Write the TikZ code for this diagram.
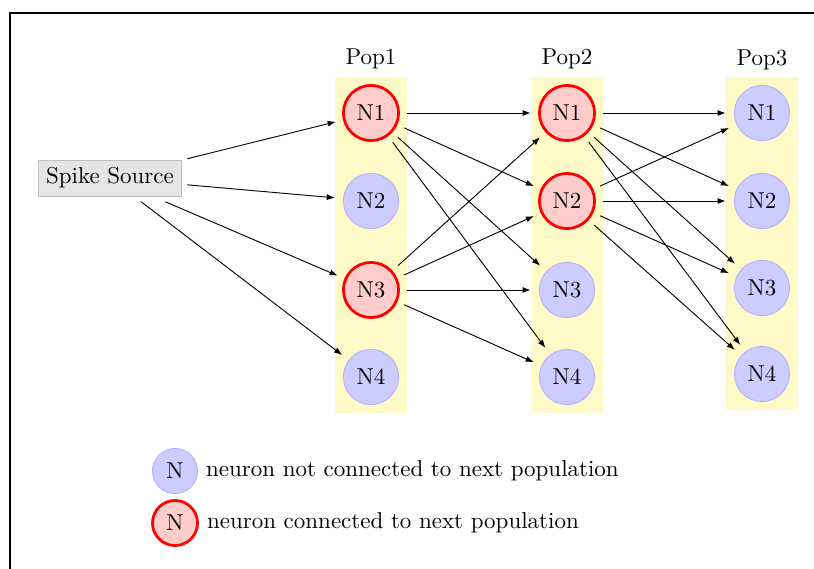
\documentclass[tikz,border=0pt]{standalone}
\usetikzlibrary{arrows.meta,positioning,fit,backgrounds}
\definecolor{popyellow}{RGB}{255,250,200}
\tikzset{
  neuron/.style={
    circle,
    draw,
    inner sep=0pt,
    minimum size=24pt,
    outer sep=3.8pt
  },
  idle/.style={neuron,draw=blue!30,fill=blue!20},
  firing/.style={neuron,draw=red,very thick,fill=red!20},
  source/.style={draw=gray!50,fill=gray!20,outer sep=2.5pt},
  column/.style={fill=popyellow,inner sep=0pt},
  syn/.style={-{Latex[length=3.5pt,width=2.6pt]},thin},
  key/.style={circle,inner sep=0pt,minimum size=19.6pt}
}

\begin{document}
\begin{tikzpicture}[x=0.435pt,y=-0.435pt]
  \useasboundingbox (0,0) rectangle (814,569);
  % Frame.
  \draw[line width=1.3pt] (10,569) |- (814,13);

  % Input.
  \node[source] (src) at (110,178) {Spike Source};

  % Population 1.
  \node[firing] (a1) at (371,113) {N1};
  \node[idle]   (a2) at (371,201) {N2};
  \node[firing] (a3) at (371,290) {N3};
  \node[idle]   (a4) at (371,377) {N4};
  \node at (371,59) {Pop1};

  % Population 2.
  \node[firing] (b1) at (567,113) {N1};
  \node[firing] (b2) at (567,201) {N2};
  \node[idle]   (b3) at (567,290) {N3};
  \node[idle]   (b4) at (567,377) {N4};
  \node at (567,59) {Pop2};

  % Population 3.
  \node[idle] (c1) at (762,113) {N1};
  \node[idle] (c2) at (762,201) {N2};
  \node[idle] (c3) at (762,288) {N3};
  \node[idle] (c4) at (762,374) {N4};
  \node at (762,60) {Pop3};

  \begin{scope}[on background layer]
    \node[column,fit=(a1)(a4)] (pop1) {};
    \node[column,fit=(b1)(b4)] (pop2) {};
    \node[column,fit=(c1)(c4)] (pop3) {};
  \end{scope}

  % Connections.
  \draw[syn] (src) -- (a1);
  \draw[syn] (src) -- (a2);
  \draw[syn] (src) -- (a3);
  \draw[syn] (src) -- (a4);

  \draw[syn] (a1) -- (b1);
  \draw[syn] (a1) -- (b2);
  \draw[syn] (a1) -- (b3);
  \draw[syn] (a1) -- (b4);
  \draw[syn] (a3) -- (b1);
  \draw[syn] (a3) -- (b2);
  \draw[syn] (a3) -- (b3);
  \draw[syn] (a3) -- (b4);

  \draw[syn] (b1) -- (c1);
  \draw[syn] (b1) -- (c2);
  \draw[syn] (b1) -- (c3);
  \draw[syn] (b1) -- (c4);
  \draw[syn] (b2) -- (c1);
  \draw[syn] (b2) -- (c2);
  \draw[syn] (b2) -- (c3);
  \draw[syn] (b2) -- (c4);

  % Legend.
  \node[key,draw=blue!30,fill=blue!20] (k1) at (175,471) {N};
  \node[right=0pt of k1] (t1) {neuron not connected to next population};
  \node[key,draw=red,very thick,fill=red!20] (k2) at (175,523) {N};
  \node[right=0pt of k2] (t2) {neuron connected to next population};
\end{tikzpicture}
\end{document}
